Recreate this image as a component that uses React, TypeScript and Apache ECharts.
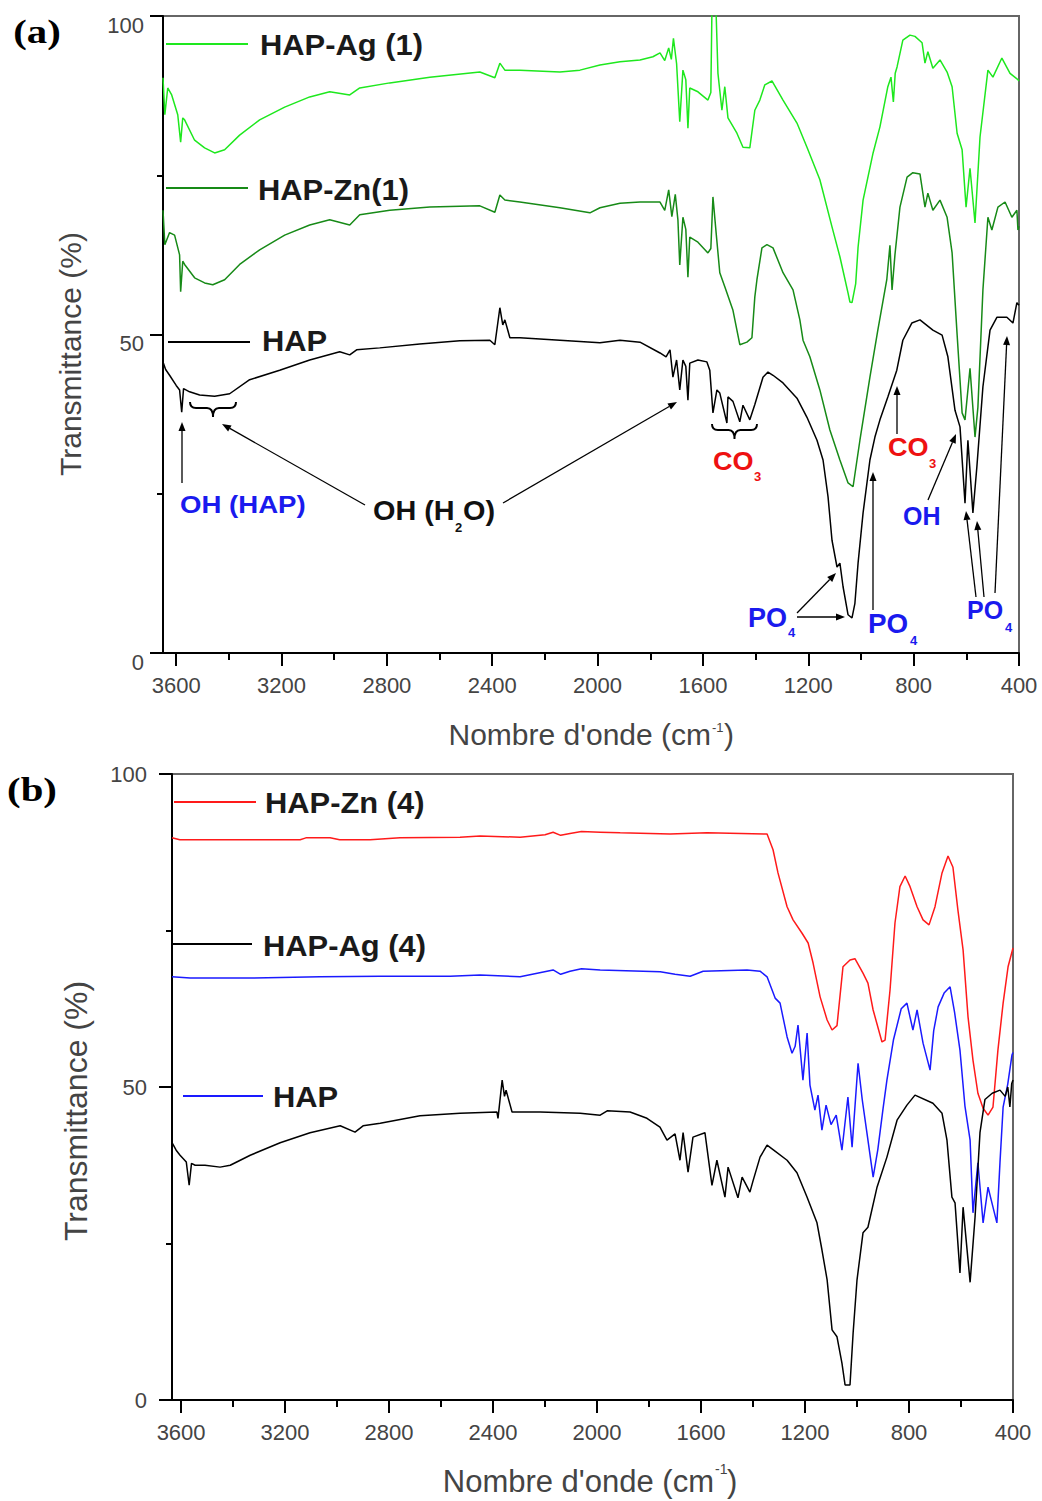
import React, { useEffect, useRef } from 'react';
import * as echarts from 'echarts';

// ---------- axis ticks ----------
const xMajorTicks = [400, 800, 1200, 1600, 2000, 2400, 2800, 3200, 3600];
const xMinorTicks = [600, 1000, 1400, 1800, 2200, 2600, 3000, 3400];

// ---------- panel (a) : [wavenumber cm-1, transmittance %] ----------
const hapAgOne: [number, number][] = [
  [3650, 90.3], [3643, 84.5], [3632, 88.7], [3617, 87.6], [3594, 84.5], [3583, 80.2], [3575, 84.0], [3568, 83.7],
  [3530, 80.5], [3492, 79.3], [3454, 78.5], [3416, 79.0], [3359, 81.3], [3283, 83.7], [3188, 85.7], [3093, 87.3],
  [3017, 88.1], [2941, 87.6], [2903, 88.7], [2789, 89.5], [2637, 90.4], [2447, 91.2], [2390, 90.3], [2371, 92.6],
  [2352, 91.5], [2295, 91.5], [2143, 91.2], [2067, 91.5], [1991, 92.3], [1915, 92.8], [1839, 93.1], [1790, 93.6],
  [1763, 94.2], [1745, 93.0], [1730, 95.0], [1720, 93.2], [1712, 96.5], [1700, 92.5], [1688, 83.4], [1676, 91.5],
  [1665, 90.0], [1657, 82.4], [1650, 88.7], [1619, 88.1], [1581, 86.8], [1570, 88.0], [1566, 100.5], [1550, 100.5],
  [1543, 91.0], [1528, 85.2], [1517, 88.9], [1505, 84.0], [1471, 81.6], [1448, 79.4], [1422, 79.3], [1403, 85.2],
  [1384, 86.8], [1365, 89.2], [1338, 89.8], [1296, 86.8], [1243, 83.2], [1205, 79.4], [1156, 74.3], [1110, 66.9],
  [1080, 62.2], [1049, 56.5], [1042, 55.1], [1034, 55.0], [1020, 58.0], [1011, 63.7], [992, 71.1], [954, 78.5],
  [928, 82.6], [898, 88.9], [886, 90.4], [877, 86.5], [870, 91.0], [863, 92.0], [841, 96.2], [814, 97.0],
  [795, 96.8], [768, 95.8], [757, 92.6], [746, 94.4], [727, 91.8], [700, 93.1], [673, 91.2], [654, 88.9],
  [635, 81.6], [616, 79.0], [601, 70.0], [586, 76.1], [567, 67.5], [548, 81.0], [518, 91.5], [499, 90.4],
  [465, 93.4], [434, 91.0], [404, 90.0], [400, 89.8],
];

const hapZnOne: [number, number][] = [
  [3650, 69.5], [3643, 64.1], [3625, 66.0], [3606, 65.6], [3587, 62.5], [3583, 56.7], [3575, 61.5], [3568, 61.0],
  [3530, 58.9], [3492, 58.1], [3461, 57.8], [3416, 58.6], [3359, 61.0], [3283, 63.3], [3188, 65.6], [3093, 67.2],
  [3017, 68.0], [2941, 67.2], [2903, 68.8], [2789, 69.5], [2637, 70.0], [2447, 70.2], [2390, 69.2], [2371, 71.9],
  [2352, 71.1], [2295, 70.8], [2143, 69.9], [2029, 69.1], [1991, 69.9], [1915, 70.6], [1839, 70.8], [1763, 70.8],
  [1745, 69.5], [1730, 72.7], [1718, 68.5], [1705, 72.0], [1695, 68.0], [1688, 60.9], [1676, 68.4], [1665, 66.5],
  [1657, 59.0], [1650, 65.3], [1619, 64.5], [1581, 62.8], [1570, 63.5], [1562, 71.6], [1550, 66.0], [1536, 59.7],
  [1517, 57.5], [1486, 53.8], [1471, 50.7], [1460, 48.4], [1433, 48.8], [1414, 49.5], [1403, 55.9], [1395, 58.6],
  [1376, 63.6], [1357, 64.1], [1334, 63.6], [1296, 59.7], [1258, 57.0], [1232, 52.3], [1220, 49.1], [1194, 46.5],
  [1156, 41.3], [1118, 35.0], [1080, 30.3], [1049, 26.7], [1030, 26.1], [1004, 33.4], [966, 43.3], [936, 50.7],
  [902, 58.6], [890, 64.0], [882, 57.0], [871, 62.5], [852, 70.0], [825, 74.7], [803, 75.4], [776, 75.2],
  [757, 70.0], [746, 72.2], [727, 69.5], [700, 71.1], [673, 68.4], [654, 62.8], [635, 50.0], [616, 37.7],
  [605, 36.6], [586, 44.7], [567, 33.9], [556, 38.6], [537, 57.0], [518, 68.4], [503, 66.4], [480, 70.0],
  [453, 70.8], [427, 68.4], [408, 69.5], [404, 66.4], [400, 67.0],
];

const hapOne: [number, number][] = [
  [3650, 45.7], [3640, 44.5], [3625, 43.6], [3600, 42.0], [3587, 41.3], [3579, 37.8], [3572, 41.5], [3549, 41.0],
  [3511, 40.5], [3454, 40.3], [3397, 40.7], [3321, 42.9], [3207, 44.4], [3093, 46.0], [2979, 47.3], [2941, 46.8],
  [2915, 47.6], [2827, 47.9], [2675, 48.5], [2523, 49.0], [2409, 49.1], [2390, 48.4], [2371, 54.2], [2360, 51.5],
  [2352, 52.3], [2333, 49.5], [2295, 49.5], [2143, 49.1], [1991, 48.7], [1915, 49.1], [1839, 48.8], [1763, 47.1],
  [1740, 46.5], [1725, 47.6], [1714, 43.3], [1700, 46.0], [1688, 41.3], [1676, 46.0], [1665, 45.0], [1657, 39.7],
  [1650, 45.5], [1619, 46.0], [1585, 45.7], [1574, 44.4], [1562, 37.7], [1547, 41.3], [1536, 40.8], [1509, 36.1],
  [1505, 40.2], [1486, 39.5], [1460, 36.3], [1448, 38.9], [1422, 36.6], [1403, 39.0], [1372, 43.3], [1353, 44.1],
  [1334, 43.6], [1296, 42.4], [1243, 40.0], [1205, 37.0], [1167, 33.4], [1144, 30.3], [1125, 24.5], [1110, 17.7],
  [1091, 13.5], [1080, 14.1], [1068, 10.4], [1049, 6.0], [1034, 5.5], [1023, 7.8], [1011, 14.1], [992, 22.0],
  [966, 30.3], [947, 33.9], [928, 36.6], [898, 40.2], [864, 44.4], [841, 49.1], [807, 51.8], [776, 52.3],
  [727, 50.7], [692, 49.9], [670, 46.5], [643, 38.1], [624, 35.5], [605, 23.5], [594, 33.4], [575, 22.0],
  [560, 29.2], [537, 41.8], [510, 50.7], [484, 52.7], [446, 52.7], [423, 51.8], [408, 55.0], [400, 54.6],
];

// ---------- panel (b) ----------
const hapZnFour: [number, number][] = [
  [3635, 89.8], [3605, 89.5], [3527, 89.5], [3142, 89.5], [3120, 89.8], [3027, 89.8], [2990, 89.5], [2873, 89.5],
  [2758, 89.8], [2527, 89.9], [2450, 90.1], [2296, 89.9], [2200, 90.3], [2169, 90.7], [2140, 90.2], [2104, 90.5],
  [2060, 90.8], [1988, 90.7], [1911, 90.6], [1719, 90.4], [1577, 90.6], [1346, 90.4], [1323, 87.9], [1304, 84.2],
  [1269, 78.8], [1246, 76.7], [1212, 74.6], [1188, 73.0], [1169, 69.8], [1142, 64.4], [1115, 60.7], [1096, 59.1],
  [1077, 59.8], [1054, 69.2], [1027, 70.3], [1008, 70.5], [977, 68.2], [958, 66.6], [938, 62.3], [904, 57.2],
  [892, 57.5], [873, 65.5], [854, 76.2], [835, 82.0], [815, 83.7], [796, 82.0], [769, 78.8], [746, 76.7],
  [723, 75.9], [700, 78.8], [673, 84.2], [650, 86.9], [631, 85.1], [612, 78.3], [592, 71.9], [573, 61.2],
  [554, 54.3], [535, 49.0], [515, 46.6], [496, 45.5], [477, 46.8], [458, 55.9], [438, 63.4], [419, 69.2],
  [400, 72.2],
];

const hapAgFour: [number, number][] = [
  [3635, 67.6], [3565, 67.4], [3334, 67.4], [3065, 67.6], [2834, 67.7], [2565, 67.7], [2450, 67.9], [2296, 67.6],
  [2169, 68.7], [2140, 68.0], [2104, 68.5], [2060, 68.9], [1988, 68.7], [1757, 68.4], [1700, 68.0], [1642, 67.7],
  [1592, 68.5], [1423, 68.7], [1373, 68.5], [1346, 67.6], [1315, 64.2], [1296, 63.4], [1269, 58.0], [1250, 55.4],
  [1238, 56.5], [1227, 59.9], [1208, 51.1], [1192, 58.6], [1181, 50.3], [1162, 46.3], [1150, 48.7], [1135, 43.1],
  [1119, 47.1], [1100, 44.0], [1080, 45.5], [1058, 39.9], [1035, 48.4], [1019, 40.4], [996, 53.8], [980, 48.0],
  [962, 42.7], [938, 35.6], [920, 40.0], [900, 46.5], [885, 51.1], [860, 57.5], [830, 62.5], [808, 63.4],
  [785, 59.1], [769, 62.3], [746, 57.0], [719, 52.7], [705, 59.0], [688, 62.8], [665, 65.0], [642, 66.0],
  [625, 62.0], [604, 55.9], [585, 47.0], [565, 41.5], [554, 29.9], [535, 37.9], [515, 28.3], [496, 34.0],
  [477, 30.8], [462, 28.3], [450, 38.0], [438, 46.8], [420, 50.5], [404, 55.1], [400, 55.5],
];

const hapFour: [number, number][] = [
  [3635, 41.1], [3619, 39.9], [3604, 39.1], [3580, 38.0], [3569, 34.3], [3560, 37.8], [3546, 37.5], [3508, 37.5],
  [3450, 37.2], [3411, 37.5], [3334, 39.1], [3219, 41.1], [3104, 42.7], [2988, 43.8], [2931, 42.8], [2900, 43.8],
  [2834, 44.2], [2681, 45.4], [2527, 45.8], [2385, 46.0], [2381, 45.0], [2365, 51.1], [2356, 48.5], [2350, 49.5],
  [2327, 46.0], [2219, 46.0], [2065, 45.8], [1988, 45.5], [1961, 46.2], [1873, 46.0], [1808, 45.0], [1758, 43.6],
  [1731, 41.5], [1700, 42.5], [1681, 38.3], [1669, 42.7], [1650, 36.4], [1631, 42.0], [1585, 42.7], [1558, 34.3],
  [1539, 38.3], [1508, 32.4], [1496, 37.2], [1458, 32.3], [1442, 35.6], [1412, 33.2], [1400, 35.0], [1373, 38.8],
  [1346, 40.7], [1323, 40.0], [1269, 38.3], [1231, 36.3], [1192, 32.4], [1154, 28.3], [1135, 24.0], [1115, 19.2],
  [1096, 11.2], [1077, 10.1], [1058, 5.9], [1046, 2.4], [1027, 2.4], [1015, 10.7], [1000, 19.2], [977, 26.7],
  [958, 27.6], [923, 34.0], [885, 38.8], [846, 44.7], [808, 47.1], [777, 48.7], [708, 47.4], [673, 45.8],
  [654, 41.5], [635, 32.4], [623, 31.5], [604, 20.3], [592, 30.8], [565, 18.8], [546, 29.2], [527, 42.7],
  [508, 48.0], [480, 49.0], [450, 49.5], [430, 48.5], [420, 50.0], [412, 46.8], [405, 50.5], [400, 51.1],
];

// ---------- styling ----------
const SANS = "'Liberation Sans', Arial, Helvetica, sans-serif";
const SERIF = "'Liberation Serif', 'Times New Roman', serif";
const LIGHT_GREEN = '#1ee81e';
const DARK_GREEN = '#178a17';
const RED = '#ff1a1a';
const BLUE = '#1a1aff';
const ANN_BLUE = '#1a1aee';
const ANN_RED = '#ee1111';

const BracePath = (echarts.graphic as any).extendPath(
  'M0,0 Q0,6 6,6 L17,6 Q23,6 23,15 Q23,6 29,6 L40,6 Q46,6 46,0',
  {}
);
(echarts.graphic as any).registerShape('brace', BracePath);

type TxtOpt = {
  size?: number; weight?: string; color?: string; align?: string; vAlign?: string;
  scaleX?: number; rotation?: number; family?: string;
};

function txt(text: string, x: number, y: number, o: TxtOpt = {}) {
  const {
    size = 20, weight = 'normal', color = '#000', align = 'left', vAlign = 'middle',
    scaleX = 1, rotation = 0, family = SANS,
  } = o;
  return {
    type: 'text', x, y, scaleX, rotation, z: 100, silent: true,
    style: {
      text, fill: color, fontSize: size, fontWeight: weight, fontFamily: family,
      align, verticalAlign: vAlign, textAlign: align, textVerticalAlign: vAlign,
    },
  };
}

function arrow(x1: number, y1: number, x2: number, y2: number) {
  const dx = x2 - x1;
  const dy = y2 - y1;
  const L = Math.hypot(dx, dy);
  const ux = dx / L;
  const uy = dy / L;
  const hl = 9;
  const hw = 3.5;
  const bx = x2 - ux * hl;
  const by = y2 - uy * hl;
  return [
    { type: 'line', z: 100, silent: true, shape: { x1, y1, x2: bx, y2: by }, style: { stroke: '#000', lineWidth: 1.3 } },
    {
      type: 'polygon', z: 100, silent: true,
      shape: { points: [[x2, y2], [bx - uy * hw, by + ux * hw], [bx + uy * hw, by - ux * hw]] },
      style: { fill: '#000' },
    },
  ];
}

function legendLine(x1: number, x2: number, y: number, color: string) {
  return { type: 'line', z: 100, silent: true, shape: { x1, y1: y, x2, y2: y }, style: { stroke: color, lineWidth: 2 } };
}

const annotationArrows: [number, number, number, number][] = [
  [182, 483, 182, 422],
  [365, 505, 222, 424],
  [503, 503, 677, 402],
  [797, 613, 836, 573],
  [797, 617, 845, 617],
  [873, 610, 873, 472],
  [897, 434, 897, 386],
  [928, 500, 956, 434],
  [976, 597, 966, 511],
  [984, 597, 977, 521],
  [995, 593, 1007, 336],
];

function buildGraphics() {
  const g: any[] = [];
  // panel labels
  g.push(txt('(a)', 37, 32, { size: 34, weight: 'bold', family: SERIF, align: 'center', scaleX: 1.2 }));
  g.push(txt('(b)', 32, 790, { size: 34, weight: 'bold', family: SERIF, align: 'center', scaleX: 1.2 }));

  // axis names
  g.push(txt('Transmittance (%)', 70, 354, { size: 30, color: '#444', align: 'center', rotation: Math.PI / 2 }));
  g.push(txt('Transmittance (%)', 76, 1111, { size: 32, color: '#444', align: 'center', rotation: Math.PI / 2 }));
  g.push(txt("Nombre d'onde (cm", 711, 734, { size: 30, color: '#444', align: 'right' }));
  g.push(txt('-1', 712, 727, { size: 13, color: '#444' }));
  g.push(txt(')', 724, 734, { size: 30, color: '#444' }));
  g.push(txt("Nombre d'onde (cm", 714, 1481, { size: 31, color: '#444', align: 'right' }));
  g.push(txt('-1', 715, 1469, { size: 14, color: '#444' }));
  g.push(txt(')', 727, 1481, { size: 31, color: '#444' }));

  // legends (a)
  g.push(legendLine(166, 248, 44, LIGHT_GREEN));
  g.push(txt('HAP-Ag (1)', 260, 44, { size: 30, weight: 'bold', color: '#1a1a1a', scaleX: 1.03 }));
  g.push(legendLine(166, 248, 188, DARK_GREEN));
  g.push(txt('HAP-Zn(1)', 258, 189, { size: 30, weight: 'bold', color: '#1a1a1a', scaleX: 1.03 }));
  g.push(legendLine(168, 250, 342, '#000'));
  g.push(txt('HAP', 262, 340, { size: 30, weight: 'bold', color: '#1a1a1a', scaleX: 1.03 }));
  // legends (b)
  g.push(legendLine(174, 256, 802, RED));
  g.push(txt('HAP-Zn (4)', 265, 802, { size: 30, weight: 'bold', color: '#1a1a1a', scaleX: 1.03 }));
  g.push(legendLine(172, 252, 944, '#000'));
  g.push(txt('HAP-Ag (4)', 263, 945, { size: 30, weight: 'bold', color: '#1a1a1a', scaleX: 1.03 }));
  g.push(legendLine(183, 263, 1096, BLUE));
  g.push(txt('HAP', 273, 1096, { size: 30, weight: 'bold', color: '#1a1a1a', scaleX: 1.03 }));

  // annotations (a)
  g.push(txt('OH (HAP)', 180, 505, { size: 23, weight: 'bold', color: ANN_BLUE, scaleX: 1.2 }));
  g.push(txt('OH (H', 373, 510, { size: 28, weight: 'bold', color: '#111', scaleX: 1.03 }));
  g.push(txt('2', 455, 527, { size: 13, weight: 'bold', color: '#111' }));
  g.push(txt('O)', 463, 510, { size: 28, weight: 'bold', color: '#111', scaleX: 1.03 }));
  g.push(txt('CO', 713, 461, { size: 26, weight: 'bold', color: ANN_RED, scaleX: 1.04 }));
  g.push(txt('3', 754, 476, { size: 13, weight: 'bold', color: ANN_RED }));
  g.push(txt('CO', 888, 447, { size: 26, weight: 'bold', color: ANN_RED, scaleX: 1.04 }));
  g.push(txt('3', 929, 463, { size: 13, weight: 'bold', color: ANN_RED }));
  g.push(txt('PO', 748, 618, { size: 27, weight: 'bold', color: ANN_BLUE }));
  g.push(txt('4', 788, 632, { size: 13, weight: 'bold', color: ANN_BLUE }));
  g.push(txt('PO', 868, 624, { size: 27, weight: 'bold', color: ANN_BLUE, scaleX: 1.03 }));
  g.push(txt('4', 910, 640, { size: 13, weight: 'bold', color: ANN_BLUE }));
  g.push(txt('PO', 967, 610, { size: 25, weight: 'bold', color: ANN_BLUE }));
  g.push(txt('4', 1005, 627, { size: 13, weight: 'bold', color: ANN_BLUE }));
  g.push(txt('OH', 903, 516, { size: 25, weight: 'bold', color: ANN_BLUE }));

  annotationArrows.forEach(([x1, y1, x2, y2]) => g.push(...arrow(x1, y1, x2, y2)));

  g.push({ type: 'brace', x: 190, y: 402, z: 100, silent: true, style: { fill: 'none', stroke: '#000', lineWidth: 2 } });
  g.push({ type: 'brace', x: 712, y: 424, scaleX: 45 / 46, z: 100, silent: true, style: { fill: 'none', stroke: '#000', lineWidth: 2 } });
  return g;
}

function xAxes(gridIndex: number, max: number, margin: number) {
  return [
    {
      gridIndex, type: 'value', min: 400, max, inverse: true, interval: 400, position: 'bottom',
      axisLine: { show: true, onZero: false, lineStyle: { color: '#000', width: 2 } },
      axisTick: { show: true, length: 13, customValues: xMajorTicks, lineStyle: { color: '#000', width: 2 } },
      axisLabel: {
        show: true, customValues: xMajorTicks, fontSize: 22, color: '#444', margin, fontFamily: SANS,
        formatter: (v: number) => (v % 400 === 0 ? String(v) : ''),
      },
      splitLine: { show: false },
    },
    {
      gridIndex, type: 'value', min: 400, max, inverse: true, interval: 400, position: 'bottom',
      axisLine: { show: false },
      axisTick: { show: true, length: 7, customValues: xMinorTicks, lineStyle: { color: '#000', width: 2 } },
      axisLabel: { show: false },
      splitLine: { show: false },
    },
  ];
}

function yAxis(gridIndex: number, margin: number, shiftDown: boolean) {
  const label: any = { show: true, fontSize: 22, color: '#444', margin, fontFamily: SANS };
  if (shiftDown) {
    label.verticalAlign = 'top';
    label.lineHeight = 18;
  }
  return {
    gridIndex, type: 'value', min: 0, max: 100, interval: 50,
    axisLine: { show: true, onZero: false, lineStyle: { color: '#000', width: 2 } },
    axisTick: { show: true, length: 13, lineStyle: { color: '#000', width: 2 } },
    minorTick: { show: true, splitNumber: 2, length: 6, lineStyle: { color: '#000', width: 2 } },
    axisLabel: label,
    splitLine: { show: false },
    minorSplitLine: { show: false },
  };
}

function lineSeries(name: string, data: [number, number][], color: string, xi: number, yi: number) {
  return {
    name, type: 'line', data, xAxisIndex: xi, yAxisIndex: yi, showSymbol: false, symbol: 'none',
    lineStyle: { color, width: 1.5 }, itemStyle: { color }, clip: true, silent: true, z: 3,
  };
}

export default function App() {
  const ref = useRef<HTMLDivElement>(null);
  useEffect(() => {
    if (!ref.current) return;
    const chart = echarts.init(ref.current, undefined, { renderer: 'svg' });
    chart.setOption({
      animation: false,
      backgroundColor: '#fff',
      grid: [
        { left: 163, top: 16, width: 856, height: 637, show: true, borderColor: '#666', borderWidth: 2, backgroundColor: 'transparent' },
        { left: 172, top: 774, width: 841, height: 626, show: true, borderColor: '#666', borderWidth: 2, backgroundColor: 'transparent' },
      ],
      xAxis: [...xAxes(0, 3650, 21), ...xAxes(1, 3635, 21)],
      yAxis: [yAxis(0, 19, true), yAxis(1, 25, false)],
      series: [
        lineSeries('HAP-Ag (1)', hapAgOne, LIGHT_GREEN, 0, 0),
        lineSeries('HAP-Zn(1)', hapZnOne, DARK_GREEN, 0, 0),
        lineSeries('HAP', hapOne, '#000', 0, 0),
        lineSeries('HAP-Zn (4)', hapZnFour, RED, 2, 1),
        lineSeries('HAP-Ag (4)', hapAgFour, BLUE, 2, 1),
        lineSeries('HAP (b)', hapFour, '#000', 2, 1),
      ],
      graphic: buildGraphics(),
    });
    return () => chart.dispose();
  }, []);
  return (
    <div
      ref={ref}
      style={{ position: 'absolute', left: 0, top: 0, width: 1042, height: 1501, background: '#fff' }}
    />
  );
}
